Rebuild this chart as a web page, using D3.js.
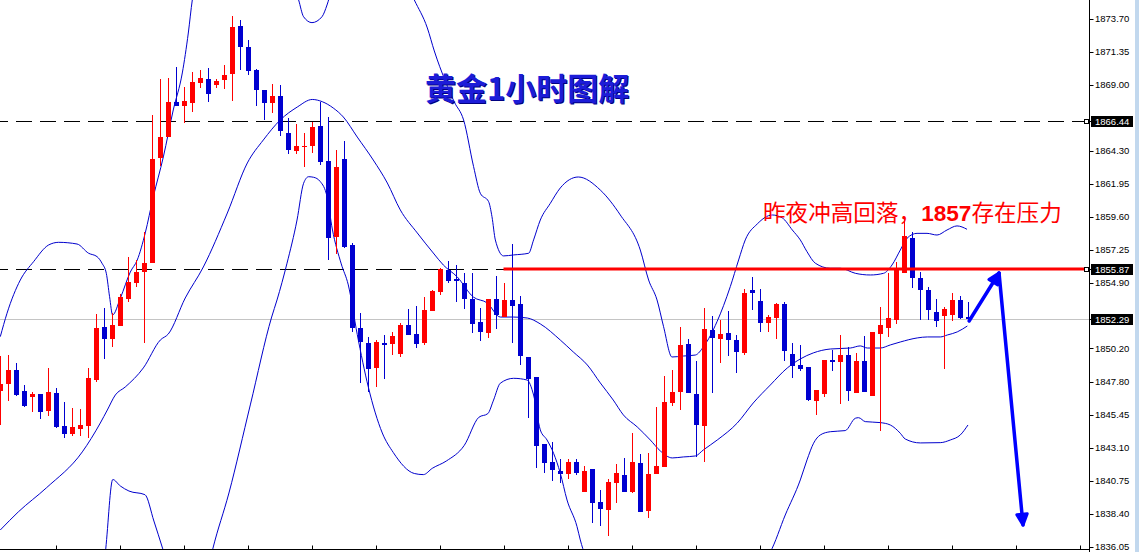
<!DOCTYPE html>
<html><head><meta charset="utf-8">
<script src="https://cdn.jsdelivr.net/npm/d3@7"></script>
<style>html,body{margin:0;padding:0;background:#fff;overflow:hidden}</style>
</head><body><svg id="c" width="1139" height="552"></svg>
<script>
// ---------- data ----------
const opens = [1847.19,1847.67,1848.66,1847.17,1846.76,1846.95,1845.74,1847.02,1844.67,1844.10,1844.46,1844.67,1847.95,1851.73,1850.88,1851.80,1853.75,1854.89,1855.68,1856.28,
1863.76,1865.26,1867.80,1867.49,1867.73,1869.16,1869.42,1869.01,1869.33,1869.80,1873.22,1871.72,1870.06,1868.64,1867.73,1868.21,1865.55,1864.31,1864.57,1864.66,
1866.07,1863.57,1858.13,1863.71,1857.58,1851.64,1850.57,1848.83,1850.57,1850.52,1849.81,1851.87,1851.23,1850.61,1852.89,1854.21,1855.80,1855.13,1854.89,1853.71,
1852.11,1851.33,1853.71,1852.47,1853.66,1853.37,1849.57,1848.19,1843.39,1842.08,1841.46,1841.25,1842.10,1839.98,1841.60,1839.23,1838.68,1840.63,1841.18,1839.98,
1842.05,1838.63,1841.25,1841.77,1846.29,1847.12,1850.52,1846.95,1844.69,1851.52,1850.88,1851.33,1850.80,1849.90,1854.37,1853.59,1852.00,1852.40,1853.37,1849.81,
1849.00,1848.90,1846.47,1846.95,1849.36,1849.26,1849.73,1847.05,1849.31,1846.83,1851.23,1851.68,1852.23,1855.56,1858.06,1855.20,1854.37,1852.82,1852.52,1852.59,
1853.66,1852.47];
const highs = [1849.66,1849.73,1849.19,1847.59,1847.12,1846.95,1848.83,1847.40,1846.36,1845.98,1845.88,1848.83,1852.68,1853.07,1852.71,1854.06,1856.75,1856.51,1858.53,1866.85,
1869.40,1869.51,1870.30,1868.87,1869.94,1870.06,1870.21,1869.42,1870.42,1873.94,1873.63,1872.20,1870.11,1868.64,1869.06,1868.99,1866.62,1866.21,1865.57,1866.37,
1867.78,1866.73,1864.36,1865.00,1857.70,1852.71,1851.00,1850.80,1851.16,1851.40,1852.04,1853.02,1853.23,1853.89,1854.37,1855.92,1856.44,1856.15,1855.56,1855.56,
1853.07,1853.73,1855.37,1854.85,1857.65,1853.94,1849.57,1848.19,1843.39,1843.55,1842.30,1842.32,1842.30,1841.82,1841.60,1840.11,1840.87,1841.96,1842.41,1844.19,
1842.65,1842.77,1846.05,1848.24,1848.66,1851.75,1850.85,1849.33,1853.11,1852.52,1852.23,1852.87,1851.16,1854.42,1855.28,1854.42,1852.59,1853.46,1853.54,1850.57,
1850.45,1848.90,1847.24,1849.38,1850.09,1851.16,1850.31,1849.86,1851.09,1851.40,1853.18,1855.56,1856.39,1859.51,1858.53,1855.68,1854.58,1853.73,1853.14,1854.18,
1853.96,1853.54];
const lows = [1844.74,1846.47,1846.83,1846.05,1845.69,1845.19,1845.38,1844.55,1843.84,1843.98,1843.98,1843.79,1847.83,1849.45,1850.31,1851.80,1853.54,1854.58,1850.59,1856.28,
1863.24,1865.26,1867.49,1866.30,1867.09,1868.80,1867.80,1868.76,1868.69,1867.85,1870.06,1869.71,1867.49,1866.50,1867.02,1865.36,1864.07,1864.07,1863.14,1864.16,
1863.29,1856.51,1856.94,1857.35,1851.40,1847.76,1847.12,1847.43,1848.00,1849.73,1849.57,1851.16,1850.21,1850.45,1852.89,1854.01,1854.89,1853.54,1853.02,1851.28,
1850.75,1850.97,1851.59,1852.47,1850.61,1849.02,1845.22,1841.70,1841.34,1840.75,1840.63,1840.89,1841.18,1839.98,1837.77,1837.54,1836.85,1839.20,1839.98,1839.87,
1838.56,1838.09,1841.25,1841.77,1846.12,1845.81,1847.05,1842.48,1842.10,1847.05,1849.19,1849.66,1848.47,1849.73,1852.94,1851.40,1851.40,1850.88,1849.33,1848.07,
1848.61,1846.45,1845.46,1846.72,1848.61,1846.26,1846.42,1847.05,1847.12,1846.83,1844.34,1851.00,1851.95,1855.56,1854.49,1852.23,1852.23,1851.75,1848.74,1852.18,
1852.28,1852.11];
const closes = [1847.67,1848.66,1846.88,1846.10,1846.95,1845.69,1847.07,1844.60,1844.10,1844.60,1844.72,1848.09,1851.68,1850.88,1851.87,1853.85,1854.96,1855.65,1856.30,1863.71,
1865.30,1867.80,1867.49,1867.87,1869.23,1869.49,1868.33,1869.30,1869.71,1873.15,1871.72,1869.99,1868.64,1867.73,1868.21,1865.73,1864.36,1864.64,1864.64,1865.98,
1863.52,1858.06,1863.17,1857.46,1851.68,1850.64,1848.71,1850.64,1850.45,1851.09,1851.87,1851.16,1850.52,1852.94,1854.32,1855.87,1855.03,1855.03,1853.73,1851.95,
1851.40,1853.73,1852.59,1853.66,1853.25,1849.66,1848.02,1843.27,1842.05,1841.53,1841.25,1842.08,1841.34,1841.46,1839.20,1838.75,1840.70,1841.34,1839.98,1842.10,
1838.56,1841.25,1841.82,1846.40,1847.12,1850.45,1847.05,1844.74,1851.59,1850.97,1851.23,1850.80,1849.97,1854.18,1854.13,1852.04,1852.42,1853.37,1850.04,1848.95,
1848.71,1846.52,1847.24,1849.38,1849.26,1849.73,1847.17,1849.31,1847.12,1851.40,1851.87,1852.35,1855.85,1858.22,1855.20,1854.37,1852.94,1852.18,1853.02,1853.66,
1852.37,1852.29];

// Bollinger bands: [bar index, price]
const upperBand = [[0,1851.04],[0.84,1852.71],[2.5,1855.08],[4.16,1856.39],[6.04,1857.58],[7.29,1857.77],[9.59,1857.65],[11.04,1856.99],[12.09,1856.75],[12.71,1856.28],
[13.25,1855.56],[13.66,1853.89],[14.04,1852.59],[15.0,1853.78],[16.25,1855.65],[17.12,1856.51],[18.12,1858.44],[19.12,1861.00],[20.38,1863.86],[21.62,1867.21],
[22.75,1869.85],[23.5,1872.70],[24.0,1875.06],[25.62,1878.27],[28.12,1881.12],[31.25,1882.19],[34.38,1880.05],[36.5,1876.48],[37.29,1875.06],[37.91,1873.86],
[38.96,1873.44],[40.21,1873.86],[40.84,1874.70],[41.88,1876.84],[44.38,1879.69],[47.5,1879.69],[50,1877.20],[51.75,1875.06],[53.38,1873.06],[54.25,1871.42],
[55.62,1869.28],[56.75,1867.78],[57.91,1866.50],[59.16,1863.17],[60,1861.27],[61.04,1860.67],[61.46,1859.60],[61.88,1857.94],[62.91,1856.80],[64.16,1856.87],
[66.04,1856.99],[66.66,1857.94],[67.5,1859.36],[68.75,1860.55],[70,1861.65],[72.25,1862.43],[75,1861.50],[77.5,1859.72],[80,1857.22],[81.04,1855.08],
[82.09,1853.66],[82.91,1851.75],[83.96,1849.59],[85.41,1849.66],[86.88,1849.73],[87.91,1850.33],[89.59,1852.11],[91.25,1854.61],[92.29,1856.51],[93.12,1857.94],
[94.62,1859.08],[96.5,1859.72],[97.75,1859.51],[99,1858.65],[100,1857.94],[100.84,1857.10],[101.88,1856.28],[103.75,1855.92],[105,1855.92],[106.88,1855.56],
[108.75,1855.44],[110.41,1855.56],[111.46,1856.15],[112.5,1857.22],[113.34,1858.06],[114.59,1858.41],[115.84,1858.41],[117.09,1858.29],[118.34,1858.65],[119.59,1858.94],
[120.84,1858.70]];
const middleBand = [[0,1837.25],[2.25,1838.54],[5.75,1840.25],[10.25,1842.82],[12.5,1844.88],[13.38,1845.81],[14.38,1846.88],[15.62,1847.45],[17.88,1848.81],[20,1850.80],
[21,1851.23],[23.12,1853.80],[25.38,1856.01],[28.38,1859.86],[30.88,1863.43],[32.88,1865.07],[35,1866.50],[37.12,1867.42],[39,1867.96],[40.25,1867.80],
[41.62,1867.35],[42.88,1866.71],[44.62,1865.28],[46.62,1863.64],[48.38,1862.00],[50,1860.08],[52.12,1858.44],[54.12,1857.01],[55.38,1856.15],[57.12,1855.30],
[59.12,1853.87],[60.88,1853.44],[62.5,1852.44],[64.12,1852.44],[65.88,1852.37],[67.5,1851.95],[70,1850.80],[71.62,1849.95],[73.38,1849.02],[75,1847.74],
[76.62,1846.52],[77.88,1845.46],[79.62,1844.60],[81.25,1843.67],[82.5,1842.89],[84,1842.39],[85.38,1842.46],[86.88,1842.53],[87.88,1842.96],[89.62,1843.67],
[92.12,1844.88],[94.12,1846.31],[96.25,1847.59],[98.38,1848.81],[100,1849.45],[101.62,1849.88],[103.75,1850.16],[106.25,1850.23],[107.5,1850.38],[108.38,1850.23],
[110,1850.23],[111.25,1850.45],[112.5,1850.66],[114.62,1850.95],[115.88,1851.02],[117.5,1851.02],[118.38,1851.16],[119.62,1851.38],[120.88,1851.80]];
const lowerBand = [[12.5,1832.26],[13.18,1835.90],[14.06,1840.85],[15,1840.39],[16.08,1840.03],[18.08,1839.77],[19.2,1837.89],[20.31,1835.90],[21.88,1832.97],[23.75,1831.55],
[25.38,1832.97],[26.56,1835.90],[28.58,1839.89],[31.25,1846.17],[33.92,1852.44],[34.59,1853.66],[35.84,1856.28],[37.09,1859.36],[37.91,1861.98],[38.54,1862.45],
[39.16,1862.41],[40,1862.10],[40.84,1861.03],[41.5,1858.72],[42.62,1856.23],[43.5,1854.73],[44.62,1851.20],[46,1847.45],[47.75,1844.17],[49.12,1842.78],
[51.75,1841.28],[52.88,1841.20],[54,1841.65],[55.75,1842.17],[58,1843.29],[59.82,1845.29],[60.94,1845.55],[61.66,1846.52],[62.5,1847.72],[64.16,1848.07],
[65.84,1847.95],[66.66,1846.88],[67.5,1844.39],[68.34,1843.67],[69.16,1842.72],[70,1841.30],[70.84,1839.39],[72.09,1837.49],[72.5,1836.54],[73.75,1834.40],
[77.5,1829.41],[82.5,1825.84],[87.5,1825.84],[92.5,1830.12],[95.62,1835.11],[96.25,1835.68],[98.12,1838.32],[100,1840.82],[100.84,1842.25],[101.66,1843.44],
[102.5,1844.03],[103.75,1844.26],[105.62,1844.34],[106.88,1845.22],[107.29,1845.26],[108.12,1844.98],[110,1844.91],[111.25,1844.74],[112.5,1844.15],[113.12,1843.74],
[115,1843.46],[117.5,1843.48],[118.75,1843.67],[120,1844.03],[120.96,1844.74]];

const priceTicks = ["1873.70","1871.35","1869.00","1864.30","1861.95","1859.60","1857.25","1854.90","1850.20","1847.80","1845.45","1843.10","1840.75","1838.40","1836.05"];
const dashedLevels = [1866.44, 1855.87];
const currentPrice = 1852.29;
const resistance = {from: 62.9, price: 1855.87};
const timeTickBars = d3.range(7, 137, 8);
const arrowPath = [[121.1,1852.16],[124.84,1855.58],[127.84,1837.61]];
const titleText = "黄金1小时图解";
const noteParts = [["昨夜冲高回落，", false], ["1857", true], ["存在压力", false]];

// ---------- drawing ----------
const svg = d3.select('#c');
const axisX = 1089.5, bottomY = 549.5;
const x = d3.scaleLinear().domain([0, 1]).range([0.3, 8.3]);
const y = d3.scaleLinear().domain([1835.68, 1875.055]).range([552, 0]);
const RED = '#ff0000', BLUE = '#0000d0';

svg.append('rect').attr('width', 1139).attr('height', 552).attr('fill', '#fff');
svg.append('defs').append('clipPath').attr('id', 'plot')
  .append('rect').attr('x', 0).attr('y', 0).attr('width', 1089).attr('height', 549);

const plot = svg.append('g').attr('clip-path', 'url(#plot)');

// current price line
plot.append('line').attr('x1', 0).attr('x2', axisX)
  .attr('y1', Math.round(y(currentPrice)) + 0.5).attr('y2', Math.round(y(currentPrice)) + 0.5)
  .attr('stroke', '#c4c4c4').attr('stroke-width', 1);

// dashed levels
plot.selectAll('line.lvl').data(dashedLevels).join('line').attr('class', 'lvl')
  .attr('x1', 0).attr('x2', 1084)
  .attr('y1', d => Math.round(y(d)) + 0.5).attr('y2', d => Math.round(y(d)) + 0.5)
  .attr('stroke', '#000').attr('stroke-width', 1)
  .attr('stroke-dasharray', '16,8').attr('stroke-dashoffset', 8);

// bands
const bandLine = d3.line().x(d => x(d[0])).y(d => y(d[1])).curve(d3.curveMonotoneX);
[upperBand, middleBand, lowerBand].forEach(b => {
  plot.append('path').attr('d', bandLine(b)).attr('fill', 'none')
    .attr('stroke', '#0000cc').attr('stroke-width', 1);
});

// candles
const idx = d3.range(opens.length);
const cx = i => Math.round(x(i));
plot.selectAll('rect.wick').data(idx).join('rect').attr('class', 'wick')
  .attr('x', i => cx(i)).attr('width', 1)
  .attr('y', i => Math.round(y(highs[i])))
  .attr('height', i => Math.max(1, Math.round(y(lows[i])) - Math.round(y(highs[i]))))
  .attr('fill', i => closes[i] >= opens[i] ? RED : BLUE)
  .attr('shape-rendering', 'crispEdges');
plot.selectAll('rect.body').data(idx).join('rect').attr('class', 'body')
  .attr('x', i => cx(i) - 2).attr('width', 5)
  .attr('y', i => Math.round(y(Math.max(opens[i], closes[i]))))
  .attr('height', i => Math.max(1, Math.round(y(Math.min(opens[i], closes[i]))) - Math.round(y(Math.max(opens[i], closes[i])))))
  .attr('fill', i => closes[i] >= opens[i] ? RED : BLUE)
  .attr('shape-rendering', 'crispEdges');

// resistance line
plot.append('line').attr('x1', x(resistance.from)).attr('x2', 1086)
  .attr('y1', y(resistance.price)).attr('y2', y(resistance.price))
  .attr('stroke', RED).attr('stroke-width', 3);

// arrow
function arrowHead(p1, p2) {
  const a = Math.atan2(p2[1] - p1[1], p2[0] - p1[0]), L = 12, s = 0.45;
  return [[p2[0] - L * Math.cos(a - s), p2[1] - L * Math.sin(a - s)], p2,
          [p2[0] - L * Math.cos(a + s), p2[1] - L * Math.sin(a + s)]];
}
const ap = arrowPath.map(d => [x(d[0]), y(d[1])]);
for (let k = 0; k < ap.length - 1; k++) {
  svg.append('path').attr('d', d3.line()([ap[k], ap[k + 1]]))
    .attr('stroke', '#0000ff').attr('stroke-width', 3.5).attr('fill', 'none').attr('stroke-linecap', 'round');
  svg.append('path').attr('d', d3.line()(arrowHead(ap[k], ap[k + 1])) + 'Z')
    .attr('stroke', '#0000ff').attr('stroke-width', 3).attr('fill', '#0000ff').attr('stroke-linejoin', 'round');
}

// bottom time axis (labels cut off)
svg.append('line').attr('x1', 0).attr('x2', axisX).attr('y1', bottomY).attr('y2', bottomY)
  .attr('stroke', '#000').attr('stroke-width', 1);
svg.selectAll('line.tt').data(timeTickBars).join('line').attr('class', 'tt')
  .attr('x1', i => cx(i) + 0.5).attr('x2', i => cx(i) + 0.5)
  .attr('y1', bottomY).attr('y2', bottomY - 4).attr('stroke', '#000');

// right price axis
svg.append('line').attr('x1', axisX).attr('x2', axisX).attr('y1', 0).attr('y2', 552)
  .attr('stroke', '#000').attr('stroke-width', 1);
const ax = svg.append('g');
ax.selectAll('line.pt').data(priceTicks).join('line').attr('class', 'pt')
  .attr('x1', axisX).attr('x2', axisX + 4)
  .attr('y1', d => Math.round(y(+d)) + 0.5).attr('y2', d => Math.round(y(+d)) + 0.5)
  .attr('stroke', '#000');
ax.selectAll('text.pt').data(priceTicks).join('text').attr('class', 'pt')
  .attr('x', 1095).attr('y', d => y(+d)).attr('dy', '0.35em')
  .attr('font-family', 'Liberation Sans, Arial, sans-serif').attr('font-size', 9.5)
  .attr('fill', '#000').text(d => d);

const marked = [[1866.44, true], [1855.87, true], [currentPrice, false]];
marked.forEach(([p, sq]) => {
  const py = Math.round(y(p));
  if (sq) {
    svg.append('rect').attr('x', 1084.5).attr('y', py - 1.5).attr('width', 4).attr('height', 4)
      .attr('fill', '#fff').attr('stroke', '#000');
  }
  svg.append('line').attr('x1', axisX).attr('x2', axisX + 4).attr('y1', py + 0.5).attr('y2', py + 0.5).attr('stroke', '#000');
  svg.append('rect').attr('x', 1091).attr('y', py - 5).attr('width', 42).attr('height', 11).attr('fill', '#000');
  svg.append('text').attr('x', 1095).attr('y', py + 0.5).attr('dy', '0.35em')
    .attr('font-family', 'Liberation Sans, Arial, sans-serif').attr('font-size', 9.5)
    .attr('fill', '#fff').text(p.toFixed(2));
});

// window edge
svg.append('rect').attr('x', 1135).attr('y', 0).attr('width', 4).attr('height', 552).attr('fill', '#c2d8ee');

// title
const tfont = '"Noto Sans CJK SC", sans-serif';
svg.append('text').attr('x', 426).attr('y', 101).attr('font-family', tfont)
  .attr('font-size', 31).attr('font-weight', 'bold').attr('fill', '#000080').text(titleText);
svg.append('text').attr('x', 425).attr('y', 100).attr('font-family', tfont)
  .attr('font-size', 31).attr('font-weight', 'bold').attr('fill', '#1c1cd8').text(titleText);

// note
const note = svg.append('text').attr('x', 763).attr('y', 221).attr('font-family', tfont)
  .attr('font-size', 22.6).attr('fill', RED);
noteParts.forEach(([t, b]) => {
  note.append('tspan').attr('font-weight', b ? 'bold' : 'normal')
    .attr('font-family', b ? 'Liberation Sans, Arial, sans-serif' : tfont).text(t);
});
</script></body></html>
